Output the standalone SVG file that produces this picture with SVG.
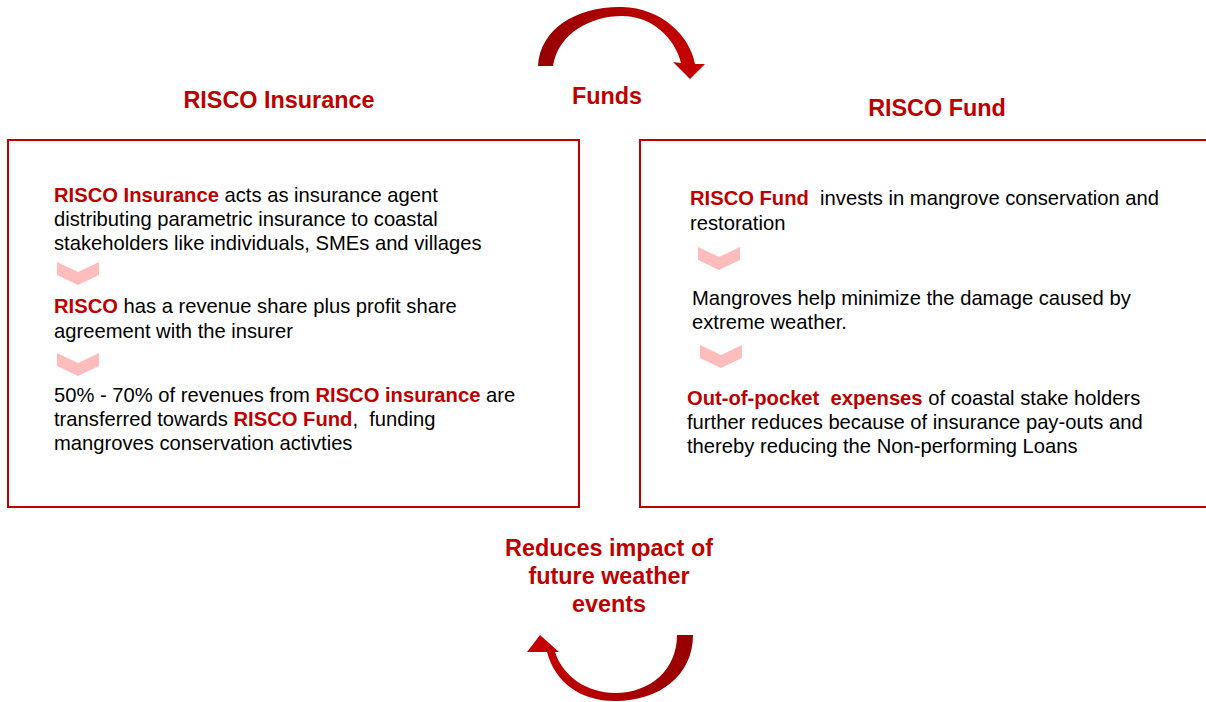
<svg xmlns="http://www.w3.org/2000/svg" width="1206" height="702" viewBox="0 0 1206 702">
<defs>
<linearGradient id="gTop" x1="0" y1="0" x2="1" y2="0">
<stop offset="0" stop-color="#960000"/>
<stop offset="0.5" stop-color="#b00000"/>
<stop offset="1" stop-color="#c80000"/>
</linearGradient>
<linearGradient id="gBot" x1="0" y1="0" x2="1" y2="0">
<stop offset="0" stop-color="#c80000"/>
<stop offset="0.5" stop-color="#b00000"/>
<stop offset="1" stop-color="#960000"/>
</linearGradient>
<polygon id="chev" points="0,0 21,10 42,0 42,13 21,23 0,13"/>
</defs>
<style>
.box{fill:#fff;stroke:#c00000;stroke-width:2}
.title{font-family:"Liberation Sans",Arial,sans-serif;font-weight:bold;font-size:23.4px;fill:#c00000;text-anchor:middle}
.body{font-family:"Liberation Sans",Arial,sans-serif;font-size:20.2px;fill:#000;white-space:pre}
.hl{font-weight:bold;fill:#c00000}
.chev{fill:#ffbcbc}
</style>
<rect width="1206" height="702" fill="#fff"/>

<g id="connectors">
<path fill="url(#gTop)" d="M538,66 C540,28 578,6 622,7 C662,8 690,36 695,64 L705,64 L690,79 L673,62 L681,63 C675,38 652,16 622,16 C590,16 558,34 553,66 Z"/>
<path fill="url(#gBot)" d="M693,635 C693,675 660,701 615,701 C580,701 555,682 547,652 L527,652 L540,635 L559,652 L555,652 C563,677 588,693 615,693 C650,693 677,670 677,635 Z"/>
<text class="title" x="607" y="104">Funds</text>
<text class="title" x="609" y="556">Reduces impact of</text>
<text class="title" x="609" y="584">future weather</text>
<text class="title" x="609" y="612">events</text>
</g>

<g id="risco-insurance">
<text class="title" x="279" y="108">RISCO Insurance</text>
<rect class="box" x="8" y="140" width="571" height="367"/>
<text class="body" x="54" y="202"><tspan class="hl">RISCO Insurance</tspan> acts as insurance agent</text>
<text class="body" x="54" y="226">distributing parametric insurance to coastal</text>
<text class="body" x="54" y="250">stakeholders like individuals, SMEs and villages</text>
<use href="#chev" class="chev" x="57" y="262"/>
<text class="body" x="54" y="313"><tspan class="hl">RISCO</tspan> has a revenue share plus profit share</text>
<text class="body" x="54" y="338">agreement with the insurer</text>
<use href="#chev" class="chev" x="57" y="353"/>
<text class="body" x="54" y="402">50% - 70% of revenues from <tspan class="hl">RISCO insurance</tspan> are</text>
<text class="body" x="54" y="426">transferred towards <tspan class="hl">RISCO Fund</tspan>,  funding</text>
<text class="body" x="54" y="450">mangroves conservation activties</text>
</g>

<g id="risco-fund">
<text class="title" x="937" y="116">RISCO Fund</text>
<rect class="box" x="640" y="140" width="580" height="367"/>
<text class="body" x="690" y="205"><tspan class="hl">RISCO Fund</tspan>  invests in mangrove conservation and</text>
<text class="body" x="690" y="230">restoration</text>
<use href="#chev" class="chev" x="698" y="247"/>
<text class="body" x="692" y="305">Mangroves help minimize the damage caused by</text>
<text class="body" x="692" y="329">extreme weather.</text>
<use href="#chev" class="chev" x="700" y="345"/>
<text class="body" x="687" y="405"><tspan class="hl">Out-of-pocket  expenses</tspan> of coastal stake holders</text>
<text class="body" x="687" y="429">further reduces because of insurance pay-outs and</text>
<text class="body" x="687" y="453">thereby reducing the Non-performing Loans</text>
</g>
</svg>
